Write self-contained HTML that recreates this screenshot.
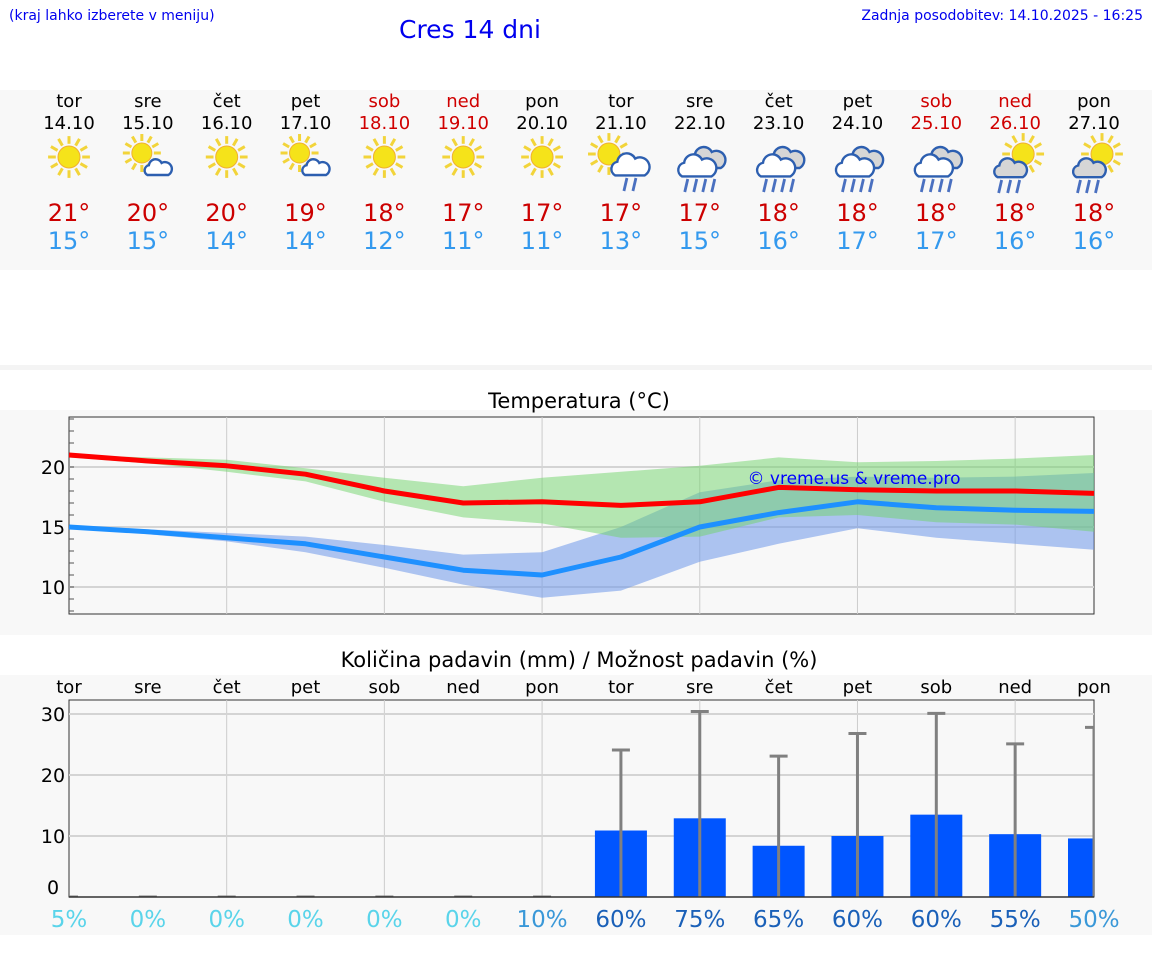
<!DOCTYPE html>
<html><head><meta charset="utf-8"><style>
body{margin:0;width:1152px;height:975px;background:#fff;font-family:"DejaVu Sans","Liberation Sans",sans-serif;overflow:hidden;position:relative}
.abs{position:absolute}
</style></head><body>
<div class="abs" style="left:9px;top:8px;font-size:14px;color:#0000ee">(kraj lahko izberete v meniju)</div>
<div class="abs" style="left:399px;top:15px;font-size:25px;color:#0000ee">Cres 14 dni</div>
<div class="abs" style="right:9px;top:8px;font-size:14px;color:#0000ee">Zadnja posodobitev: 14.10.2025 - 16:25</div>
<svg class="abs" style="left:0;top:0" width="1152" height="975" id="svg"></svg>
<script>
const days=["tor","sre","čet","pet","sob","ned","pon","tor","sre","čet","pet","sob","ned","pon"];
const dates=["14.10","15.10","16.10","17.10","18.10","19.10","20.10","21.10","22.10","23.10","24.10","25.10","26.10","27.10"];
const weekend=[0,0,0,0,1,1,0,0,0,0,0,1,1,0];
const icons=[0,1,0,1,0,0,0,2,3,3,3,3,4,4];
const tMaxLabel=[21,20,20,19,18,17,17,17,17,18,18,18,18,18];
const tMinLabel=[15,15,14,14,12,11,11,13,15,16,17,17,16,16];
const redLine=[21,20.5,20.1,19.4,18,17,17.1,16.8,17.1,18.3,18.1,18.0,18.0,17.8];
const blueLine=[15,14.6,14.1,13.6,12.5,11.4,11,12.5,15,16.2,17.1,16.6,16.4,16.3];
const greenTop=[21,20.8,20.6,19.9,19.1,18.4,19.1,19.6,20.1,20.8,20.4,20.5,20.7,21];
const greenBot=[20.8,20.3,19.6,18.8,17.1,15.8,15.3,14.1,14.2,15.8,16,15.4,15.2,14.6];
const blueTop=[15,14.8,14.5,14.2,13.5,12.7,12.9,15,17.9,18.9,19.2,19.1,19.2,19.5];
const blueBot=[15,14.4,13.8,12.9,11.6,10.2,9.1,9.7,12.1,13.6,14.9,14.1,13.6,13.1];
const tempTicks=[10,15,20];
const precip=[0,0,0,0,0,0,0,10.9,12.9,8.4,10,13.5,10.3,9.6];
const precipMax=[0,0,0,0,0,0,0,24.1,30.4,23.1,26.8,30.1,25.1,27.8];
const precipProb=[5,0,0,0,0,0,10,60,75,65,60,60,55,50];
const precipTicks=[0,10,20,30];

const svg=document.getElementById('svg');const NS="http://www.w3.org/2000/svg";
function el(t,a,p){const e=document.createElementNS(NS,t);for(const k in a)e.setAttribute(k,a[k]);(p||svg).appendChild(e);return e;}
function tx(x,y,s,size,fill,anchor){const e=el('text',{x:x,y:y,'font-size':size,fill:fill,'text-anchor':anchor||'middle','font-family':'DejaVu Sans, Liberation Sans, sans-serif'});e.textContent=s;return e;}
const X=i=>69+i*(1094-69)/13;
let r;
r=el('rect',{x:0,y:90,width:1152,height:180,fill:'#f8f8f8'});
el('rect',{x:0,y:365,width:1152,height:5,fill:'#f4f4f4'});
el('rect',{x:0,y:410,width:1152,height:225,fill:'#f8f8f8'});
el('rect',{x:0,y:675,width:1152,height:260,fill:'#f8f8f8'});
function sun(g,cx,cy,rr){for(let k=0;k<12;k++){const a=k*Math.PI/6;el('line',{x1:cx+Math.cos(a)*rr*1.2,y1:cy+Math.sin(a)*rr*1.2,x2:cx+Math.cos(a)*rr*1.9,y2:cy+Math.sin(a)*rr*1.9,stroke:'#f2d43a','stroke-width':3},g);}el('circle',{cx:cx,cy:cy,r:rr,fill:'#f5e31a',stroke:'#f0b030','stroke-width':1},g);}
function cloud(g,cx,cy,s,fill){const d=`M${cx-14*s},${cy+8*s} a${7*s},${7*s} 0 0 1 ${2*s},${-13*s} a${9*s},${9*s} 0 0 1 ${17*s},${-3*s} a${7*s},${7*s} 0 0 1 ${9*s},${16*s} z`;el('path',{d:d,fill:fill,stroke:'#2d5fb0','stroke-width':2.4},g);}
function rain(g,cx,cy,n){for(let k=0;k<n;k++){const x=cx-(n-1)*4.5+k*9;el('line',{x1:x+1.5,y1:cy,x2:x-1.5,y2:cy+13,stroke:'#4a70c0','stroke-width':2.8},g);}}
for(let i=0;i<14;i++){const x=X(i);
 let t=tx(x,107,days[i],18,weekend[i]?'#d00000':'#000');
 t=tx(x,129,dates[i],18,weekend[i]?'#d00000':'#000');
 const g=el('g',{});
 const ic=icons[i];
 if(ic==0)sun(g,x,157,11);
 else if(ic==1){sun(g,x-6,153,10);cloud(g,x+10,169,0.75,'#fff');}
 else if(ic==2){sun(g,x-12,154,11);cloud(g,x+9,167,1.05,'#fff');rain(g,x+9,178,2);}
 else if(ic==3){cloud(g,x+7,160,1.0,'#d6d6d6');cloud(g,x-3,168,1.05,'#fff');rain(g,x,179,4);}
 else {sun(g,x+8,154,11);cloud(g,x-5,170,0.9,'#d6d6d6');rain(g,x-6,180,3);}
 t=tx(x,221,tMaxLabel[i]+'°',24,'#cc0000');
 t=tx(x,249,tMinLabel[i]+'°',24,'#3399ee');
}
let t=tx(579,408,'Temperatura (°C)',21,'#000');
const TY=v=>467-(v-20)*12;
r=el('rect',{x:69,y:417,width:1025,height:197,fill:'#f8f8f8',stroke:'#333','stroke-width':1});
for(let i=2;i<13;i+=2)el('line',{x1:X(i),y1:417,x2:X(i),y2:614,stroke:'#ccc'});
tempTicks.forEach(v=>{el('line',{x1:69,y1:TY(v),x2:1094,y2:TY(v),stroke:'#d4d4d4','stroke-width':2});const l=tx(53,TY(v)+7,v,19,'#000');});
for(let v=8;v<=24;v++)el('line',{x1:69,y1:TY(v),x2:74,y2:TY(v),stroke:'#555'});
function band(top,bot,fill,op,name){let p='';top.forEach((v,i)=>p+=(i?'L':'M')+X(i)+','+TY(v));for(let i=13;i>=0;i--)p+='L'+X(i)+','+TY(bot[i]);const e=el('path',{d:p+'Z',fill:fill,'fill-opacity':op});}
band(blueTop,blueBot,'#6e98ea',0.55,'min-temp-range');
band(greenTop,greenBot,'#6fd46a',0.5,'max-temp-range');
function line(vals,color,name){const e=el('polyline',{points:vals.map((v,i)=>X(i)+','+TY(v)).join(' '),fill:'none',stroke:color,'stroke-width':5,'stroke-linejoin':'round'});}
line(blueLine,'#1e90ff','min-temp-line');line(redLine,'#ff0000','max-temp-line');
t=tx(854,484,'© vreme.us & vreme.pro',17,'#0000ff');
t=tx(579,667,'Količina padavin (mm) / Možnost padavin (%)',21,'#000');
for(let i=0;i<14;i++){t=tx(X(i),693,days[i],18,'#000');}
const PY=v=>897-v*6.1;
r=el('rect',{x:69,y:700,width:1025,height:197,fill:'#f8f8f8',stroke:'#333','stroke-width':1});
for(let i=2;i<13;i+=2)el('line',{x1:X(i),y1:700,x2:X(i),y2:897,stroke:'#ccc'});
precipTicks.forEach(v=>{if(v>0)el('line',{x1:69,y1:PY(v),x2:1094,y2:PY(v),stroke:'#d4d4d4','stroke-width':2});const l=tx(53,PY(v)+7-(v==0?10:0),v,19,'#000');});
const clip=el('clipPath',{id:'pc'});el('rect',{x:69,y:690,width:1025,height:207},clip);
const pg=el('g',{'clip-path':'url(#pc)'});
for(let i=0;i<14;i++){const x=X(i);
 if(precip[i]>0){const b=el('rect',{x:x-26,y:PY(precip[i]),width:52,height:PY(0)-PY(precip[i]),fill:'#0055ff'},pg);}
 const w=el('line',{x1:x,y1:PY(0),x2:x,y2:PY(precipMax[i]),stroke:'#808080','stroke-width':3},pg);
 el('line',{x1:x-9,y1:PY(precipMax[i]),x2:x+9,y2:PY(precipMax[i]),stroke:'#808080','stroke-width':3},pg);
 const pr=precipProb[i];const c=pr<=5?'#5ad4ea':pr<=50?'#3a98d8':'#1a60b8';
 t=tx(x,927,pr+'%',23,c);
}
el('line',{x1:69,y1:897,x2:1094,y2:897,stroke:'#333','stroke-width':1.5});
</script>
</body></html>
